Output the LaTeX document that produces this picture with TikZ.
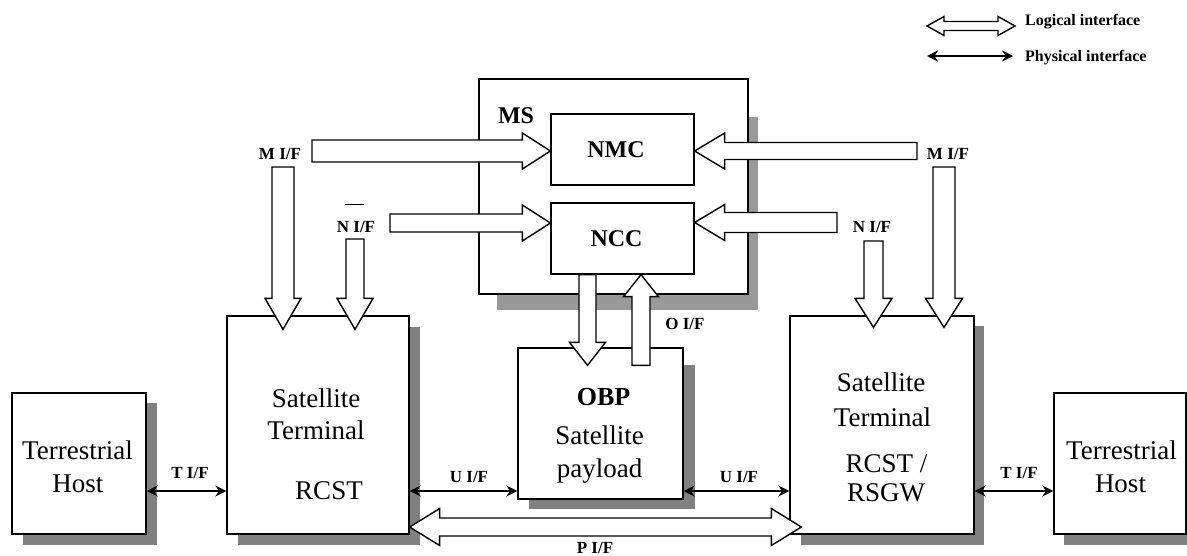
\documentclass[tikz,border=0pt]{standalone}
\usepackage{fontspec}
\setmainfont{Liberation Serif}
\usetikzlibrary{arrows.meta,calc}
\definecolor{shadowgray}{HTML}{808080}
\definecolor{msshadow}{HTML}{999999}
% horizontal block arrow: from #1 (tail centre) to #2 (tip), shaft half width #3, head half width #4, head length #5
\newcommand\harrow[5]{\draw[logical] let \p1=(#1), \p2=(#2), \n1={sign(\x2-\x1)} in
  ({\x1},{\y1+#3}) -- ({\x2-(\n1)*#5},{\y1+#3}) -- ({\x2-(\n1)*#5},{\y1+#4}) -- ({\x2},{\y1})
  -- ({\x2-(\n1)*#5},{\y1-#4}) -- ({\x2-(\n1)*#5},{\y1-#3}) -- ({\x1},{\y1-#3}) -- cycle;}
% vertical block arrow
\newcommand\varrow[5]{\draw[logical] let \p1=(#1), \p2=(#2), \n1={sign(\y2-\y1)} in
  ({\x1+#3},{\y1}) -- ({\x1+#3},{\y2-(\n1)*#5}) -- ({\x1+#4},{\y2-(\n1)*#5}) -- ({\x1},{\y2})
  -- ({\x1-#4},{\y2-(\n1)*#5}) -- ({\x1-#3},{\y2-(\n1)*#5}) -- ({\x1-#3},{\y1}) -- cycle;}
% horizontal double-headed block arrow, #1 left tip, #2 right tip
\newcommand\dharrow[5]{\draw[logical] let \p1=(#1), \p2=(#2) in
  ({\x1},{\y1}) -- ({\x1+#5},{\y1+#4}) -- ({\x1+#5},{\y1+#3}) -- ({\x2-#5},{\y1+#3}) -- ({\x2-#5},{\y1+#4})
  -- ({\x2},{\y1}) -- ({\x2-#5},{\y1-#4}) -- ({\x2-#5},{\y1-#3}) -- ({\x1+#5},{\y1-#3}) -- ({\x1+#5},{\y1-#4}) -- cycle;}
\begin{document}
\begin{tikzpicture}[x=1pt,y=-1pt,
  box/.style={draw, line width=1.3pt, fill=white, inner sep=0pt},
  logical/.style={draw, fill=white, line width=1.4pt, line join=miter},
  physical/.style={line width=2.6pt, {Stealth[length=11pt,width=11pt]}-{Stealth[length=11pt,width=11pt]}},
  big/.style={font=\fontsize{27}{33}\selectfont, anchor=base, inner sep=0pt},
  title/.style={font=\bfseries\fontsize{24}{28}\selectfont, anchor=base, inner sep=0pt},
  obpt/.style={font=\bfseries\fontsize{26}{30}\selectfont, anchor=base, inner sep=0pt},
  lab/.style={font=\bfseries\fontsize{17}{20}\selectfont, anchor=base, inner sep=0pt},
  legendtext/.style={font=\bfseries\fontsize{16}{19}\selectfont, anchor=base west, inner sep=0pt}]
\useasboundingbox[fill=white] (0,0) rectangle (1187,555);

% shadows
\fill[shadowgray] (23,403) rectangle (157,545);
\fill[shadowgray] (238,327) rectangle (420,545);
\fill[msshadow] (497,117) rectangle (758,310);
\fill[shadowgray] (529,365) rectangle (695,509);
\fill[shadowgray] (801,326) rectangle (984,545);
\fill[shadowgray] (1064,403) rectangle (1197,545);

% boxes
\node[box, minimum width=134pt, minimum height=141pt] (hostL) at (79,463.5) {};
\node[box, minimum width=182pt, minimum height=218pt] (stL) at (318,425) {};
\node[box, minimum width=269pt, minimum height=215pt] (ms) at (613.5,186.5) {};
\node[box, minimum width=143pt, minimum height=71pt] (nmc) at (622.5,149.5) {};
\node[box, minimum width=143pt, minimum height=71pt] (ncc) at (622.5,238.5) {};
\node[box, minimum width=165pt, minimum height=151pt] (obp) at (600.5,423.5) {};
\node[box, minimum width=184pt, minimum height=218pt] (stR) at (882,425) {};
\node[box, minimum width=132pt, minimum height=141pt] (hostR) at (1120,463.5) {};

% free ends of the logical interfaces
\coordinate (mLh) at (312,151);
\coordinate (nLh) at (390,223);
\coordinate (mRh) at (917,151);
\coordinate (nRh) at (837,222.5);
\coordinate (mLv) at (283,167);
\coordinate (nLv) at (355,239);
\coordinate (mRv) at (944,167);
\coordinate (nRv) at (873.5,241);
\coordinate (oD) at (587.5,0);
\coordinate (oU) at (641,0);
\coordinate (row) at (0,491);
\coordinate (pif) at (0,527);

% logical interfaces
\harrow{mLh}{mLh -| nmc.west}{11}{18}{28}
\harrow{nLh}{nLh -| ncc.west}{9}{18}{28}
\harrow{mRh}{mRh -| nmc.east}{8.5}{18}{30}
\harrow{nRh}{nRh -| ncc.east}{10}{18}{30}
\varrow{mLv}{$(mLv |- stL.north)+(0,14)$}{11}{18}{31}
\varrow{nLv}{$(nLv |- stL.north)+(0,14)$}{9}{18}{31}
\varrow{mRv}{$(mRv |- stR.north)+(0,12)$}{11}{18.5}{29}
\varrow{nRv}{$(nRv |- stR.north)+(0,12)$}{9.5}{18.5}{29}
\varrow{oD |- ncc.south}{$(oD |- obp.north)+(0,18)$}{8.5}{18}{23}
\varrow{$(oU |- obp.north)+(0,18)$}{oU |- ncc.south}{9}{17.5}{22}
\dharrow{pif -| stL.east}{$(pif -| stR.west)+(12,0)$}{9}{18.5}{30}

% physical interfaces
\draw[physical] (hostL.east |- row) -- (stL.west |- row);
\draw[physical] (stL.east |- row) -- (obp.west |- row);
\draw[physical] (obp.east |- row) -- (stR.west |- row);
\draw[physical] (stR.east |- row) -- (hostR.west |- row);

% box texts
\node[big] (hostLa) at (77.5,459) {Terrestrial};
\node[big] (hostLb) at (78,492) {Host};
\node[big] (stLa) at (316,407) {Satellite};
\node[big] (stLb) at (316,439) {Terminal};
\node[big] (stLc) at (329,499) {RCST};
\node[title] (msl) at (516,123) {MS};
\node[title] (nmct) at (616,157) {NMC};
\node[title] (ncct) at (616.5,246) {NCC};
\node[obpt] (obpa) at (603.5,405) {OBP};
\node[big] (obpb) at (599.5,444) {Satellite};
\node[big] (obpc) at (599.5,477) {payload};
\node[big] (stRa) at (881,391) {Satellite};
\node[big] (stRb) at (882.5,426) {Terminal};
\node[big] (stRc) at (886.5,472) {RCST /};
\node[big] (stRd) at (886,501) {RSGW};
\node[big] (hostRa) at (1121.5,459) {Terrestrial};
\node[big] (hostRb) at (1120.5,492) {Host};

% interface labels
\node[lab] (tifL) at (190,478) {T I/F};
\node[lab] (uifL) at (469,482) {U I/F};
\node[lab] (uifR) at (739,482) {U I/F};
\node[lab] (tifR) at (1019,478) {T I/F};
\node[lab] (oif) at (685,329) {O I/F};
\node[lab] (pifl) at (595,553) {P I/F};
\node[lab] (mifL) at (280,159) {M I/F};
\node[lab] (mifR) at (948,159) {M I/F};
\node[lab] (nifL) at (356,232) {N I/F};
\node[lab] (nifR) at (872,232) {N I/F};
\draw[line width=0.8pt] (345,204) -- (364,204);

% legend
\coordinate (lgA) at (927,26);
\coordinate (lgB) at (1015,26);
\coordinate (phA) at (927,56);
\coordinate (phB) at (1013,56);
\dharrow{lgA}{lgB}{4.5}{9.5}{17}
\draw[physical] (phA) -- (phB);
\node[legendtext] (lgl) at (1025,25) {Logical interface};
\node[legendtext] (lgp) at (1025,61) {Physical interface};
\end{tikzpicture}
\end{document}
